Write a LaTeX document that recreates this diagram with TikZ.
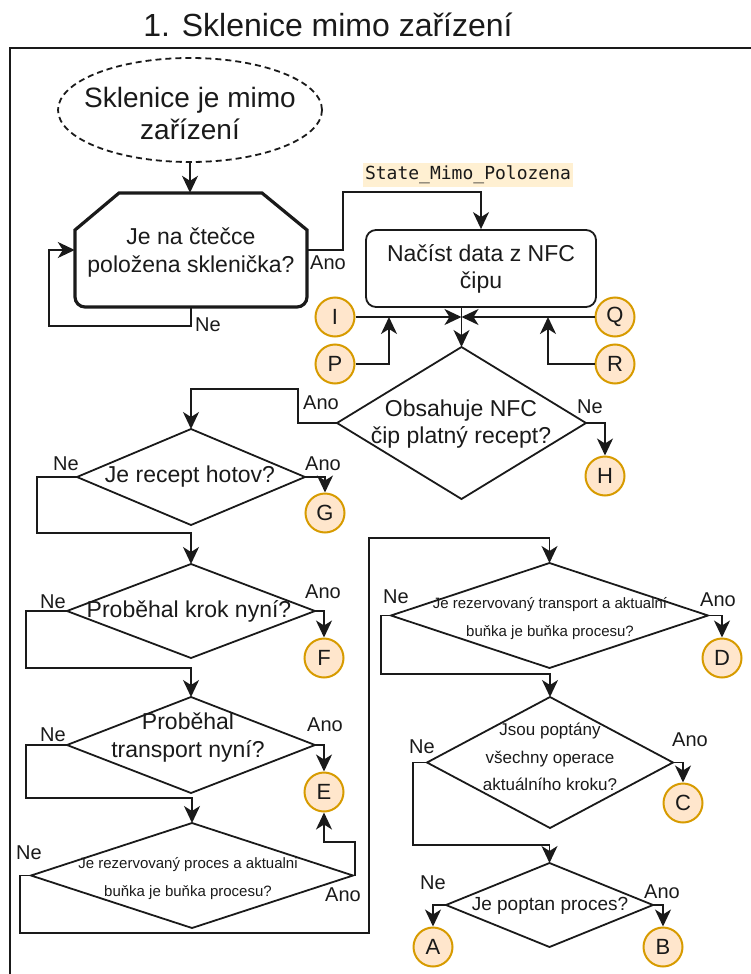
\documentclass[tikz,border=0pt]{standalone}
\usepackage{fontspec}
\setmainfont{Liberation Sans}
\newfontfamily\codefont{DejaVu Sans Mono}
\usetikzlibrary{shapes.geometric,arrows.meta}

\definecolor{ink}{HTML}{1A1A1A}
\definecolor{connfill}{HTML}{FFE6CC}
\definecolor{connline}{HTML}{D79B00}
\definecolor{codebg}{HTML}{FFF0D2}

\newcommand\fsz[2]{\fontsize{#1}{#2}\selectfont}

\tikzset{
  flow/.style={line width=1.8pt, draw=ink, -{Stealth[length=17pt,width=16pt,inset=5pt]}},
  decision/.style={diamond, draw=ink, line width=1.8pt, inner sep=0pt, outer sep=0pt},
  connector/.style={circle, draw=connline, fill=connfill, line width=2pt,
    minimum size=39pt, inner sep=0pt, text=ink, font=\fsz{22}{26}},
  txt/.style={text=ink, align=center, inner sep=0pt},
  lbl/.style={text=ink, inner sep=0pt, font=\fsz{20}{24}},
}

\begin{document}
\begin{tikzpicture}[x=1pt, y=-1pt]
\useasboundingbox (0,0) rectangle (751,974);

% heading and frame
\node[txt, anchor=base, font=\fsz{32}{38}] (title) at (328,37) {1. Sklenice mimo zařízení};
\draw[line width=2pt, draw=ink] (760,48) -- (10,48) -- (10,985);

% start state
\node[ellipse, draw=ink, line width=1.8pt, dash pattern=on 6pt off 4pt,
      minimum width=264pt, minimum height=104pt, inner sep=0pt] (start) at (190,110) {};
\node[txt, font=\fsz{28}{32}] (starttext) at (190,113) {Sklenice je mimo\\zařízení};

% loop-limit question
\draw[line width=3.2pt, draw=ink, line join=miter]
  (119,193) -- (262,193) -- (307,230) -- (307,297)
  .. controls (307,302.5) and (302.5,307) .. (297,307) -- (85,307)
  .. controls (79.5,307) and (75,302.5) .. (75,297) -- (75,230) -- cycle;
\node[txt, minimum width=232pt, minimum height=114pt] (hexq) at (191,250) {};
\node[txt, font=\fsz{23}{28}] (hexqtext) at (191,253) {Je na čtečce\\položena sklenička?};

% read NFC
\node[txt, draw=ink, line width=1.8pt, rounded corners=10pt, minimum width=230pt,
      minimum height=77pt, font=\fsz{23}{27}] (read) at (481,268.5) {Načíst data z NFC\\čipu};

% decisions
\node[decision, minimum width=249pt, minimum height=152pt] (dObs) at (461.5,423) {};
\node[txt, font=\fsz{23}{27}] (tObs) at (461,424) {Obsahuje NFC\\čip platný recept?};

\node[decision, minimum width=228pt, minimum height=96pt] (dHot) at (191,477) {};
\node[txt, font=\fsz{23}{27}] (tHot) at (190,477) {Je recept hotov?};

\node[decision, minimum width=248pt, minimum height=94pt] (dKrok) at (191,611) {};
\node[txt, font=\fsz{23}{27}] (tKrok) at (189,611) {Proběhal krok nyní?};

\node[decision, minimum width=248pt, minimum height=96pt] (dTrans) at (191,745) {};
\node[txt, font=\fsz{23}{28}] (tTrans) at (188,738) {Proběhal\\transport nyní?};

\node[decision, minimum width=322pt, minimum height=105pt] (dProc) at (192,875.5) {};
\node[txt, font=\fsz{15}{28}] (tProc) at (188,879) {Je rezervovaný proces a aktualni\\buňka je buňka procesu?};

\node[decision, minimum width=317pt, minimum height=105pt] (dTr2) at (549.5,615.5) {};
\node[txt, font=\fsz{15}{28}] (tTr2) at (550,619) {Je rezervovaný transport a aktualní\\buňka je buňka procesu?};

\node[decision, minimum width=246pt, minimum height=131pt] (dOps) at (550,762.5) {};
\node[txt, font=\fsz{17}{27.5}] (tOps) at (550,757) {Jsou poptány\\všechny operace\\aktuálního kroku?};

\node[decision, minimum width=207pt, minimum height=84pt] (dPop) at (549.5,905) {};
\node[txt, font=\fsz{19}{23}] (tPop) at (550,906) {Je poptan proces?};

% off-page connectors
\node[connector] (I) at (335,317) {I};
\node[connector] (P) at (335,364) {P};
\node[connector] (Q) at (615,317) {Q};
\node[connector] (R) at (615,364) {R};
\node[connector] (H) at (605,476) {H};
\node[connector] (G) at (325,513) {G};
\node[connector] (F) at (324,658) {F};
\node[connector] (E) at (324,792) {E};
\node[connector] (D) at (722,658) {D};
\node[connector] (C) at (683,803) {C};
\node[connector] (A) at (433,947) {A};
\node[connector] (B) at (663,947) {B};

% bend points
\coordinate (loopA) at (49,326);
\coordinate (stateA) at (343,192);
\coordinate (pJoin) at (389,317);
\coordinate (rJoin) at (548,317);
\coordinate (obsBend) at (298,389);
\coordinate (hotBend) at (37,533);
\coordinate (krokBend) at (26,668);
\coordinate (transBend) at (26,798);
\coordinate (procBend) at (355,842);
\coordinate (procLow) at (20,933);
\coordinate (colTop) at (369,538);
\coordinate (tr2Bend) at (381,674);
\coordinate (opsBend) at (413,845);

% flow
\draw[flow] (start.south) -- (start.south |- hexq.north);
\draw[flow] (hexq.south) |- (loopA) |- (hexq.west);
\draw[flow] (hexq.east) -| (stateA) -| (read.north);
\node[font=\codefont\fsz{18}{22}, fill=codebg, text=ink, inner xsep=2pt, inner ysep=3pt]
  (state) at (468,175) {State\_Mimo\_Polozena};

\draw[flow] (dObs.north |- read.south) -- (dObs.north);
\draw[flow] (I) -- (dObs.north |- I);
\draw[flow] (Q) -- (dObs.north |- Q);
\draw[flow] (P) -| (pJoin);
\draw[flow] (R) -| (rJoin);

\draw[flow] (dObs.east) -| (H);
\draw[flow] (dObs.west) -| (obsBend) -| (dHot.north);
\draw[flow] (dHot.east) -| (G);
\draw[flow] (dHot.west) -| (hotBend) -| (dKrok.north);
\draw[flow] (dKrok.east) -| (F);
\draw[flow] (dKrok.west) -| (krokBend) -| (dTrans.north);
\draw[flow] (dTrans.east) -| (E);
\draw[flow] (dTrans.west) -| (transBend) -| (dProc.north);
\draw[flow] (dProc.east) -| (procBend) -| (E);
\draw[flow] (dProc.west) -| (procLow) -| (colTop) -| (dTr2.north);
\draw[flow] (dTr2.east) -| (D);
\draw[flow] (dTr2.west) -| (tr2Bend) -| (dOps.north);
\draw[flow] (dOps.east) -| (C);
\draw[flow] (dOps.west) -| (opsBend) -| (dPop.north);
\draw[flow] (dPop.east) -| (B);
\draw[flow] (dPop.west) -| (A);

% branch labels
\node[lbl] (lHexNe) at (208,325) {Ne};
\node[lbl] (lHexAno) at (328,263) {Ano};
\node[lbl] (lObsAno) at (321,403) {Ano};
\node[lbl] (lObsNe) at (590,407) {Ne};
\node[lbl] (lHotNe) at (66,464) {Ne};
\node[lbl] (lHotAno) at (323,464) {Ano};
\node[lbl] (lKrokNe) at (53,602) {Ne};
\node[lbl] (lKrokAno) at (323,592) {Ano};
\node[lbl] (lTransNe) at (53,735) {Ne};
\node[lbl] (lTransAno) at (325,725) {Ano};
\node[lbl] (lProcNe) at (29,853) {Ne};
\node[lbl] (lProcAno) at (343,895) {Ano};
\node[lbl] (lTr2Ne) at (396,597) {Ne};
\node[lbl] (lTr2Ano) at (718,600) {Ano};
\node[lbl] (lOpsNe) at (422,747) {Ne};
\node[lbl] (lOpsAno) at (690,740) {Ano};
\node[lbl] (lPopNe) at (433,883) {Ne};
\node[lbl] (lPopAno) at (662,892) {Ano};
\end{tikzpicture}
\end{document}
